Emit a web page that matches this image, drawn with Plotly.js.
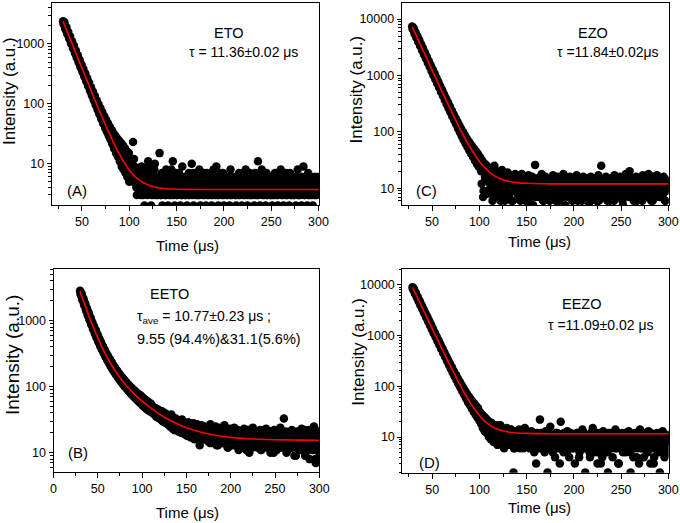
<!DOCTYPE html>
<html><head><meta charset="utf-8">
<script src="https://cdn.plot.ly/plotly-3.0.1.min.js"></script>
<style>html,body{margin:0;padding:0;background:#fff}#chart{width:680px;height:523px}</style>
</head><body><div id="chart"></div>
<script>
// ---------------- data ----------------
// Panel (A) ETO: measured decay, readings every microsecond from t = 30 us
const ETO_t0 = 30;
const ETO_intensity = [
2400,2260,1950,1870,1610,1580,1360,1310,1120,1090,
940,920,790,770,650,640,545,535,455,448,
380,372,318,312,262,263,221,218,183,184,
152,156,128,131,106,110,89,93,74,79,
61,68,51,60,44,52,36,47,31,41,
26,36,22,31,18,28,15,25,13,22,
11,19,9,17,8,15,7,13,6,12,
5,10,6,9,23,12,5,8,3,7,4,
6,3,9,4,7,2,5,8,3,11,4,6,2,7,5,3,10,4,6,3,
4,15,3,5,2,6,4,3,8,5,
2,4,6,3,5,11,4,2,7,3,
5,4,6,2,3,9,4,5,3,6,
2,4,7,3,5,10,4,2,6,3,
4,5,3,8,2,4,6,3,5,4,
2,7,3,5,4,6,2,3,8,4,
5,9,3,2,6,4,5,3,7,2,
4,5,3,6,4,2,8,3,5,4,
6,3,2,5,4,7,3,5,2,4,
6,3,8,4,2,5,3,6,4,3,
5,2,7,4,3,11,5,2,6,8,
3,4,5,2,7,3,4,6,3,5,
2,4,3,7,5,3,2,6,4,8,
3,5,2,4,6,3,5,4,2,7,
3,4,6,3,5,2,4,8,3,5,
4,2,6,9,3,5,4,2,7,3,
4,6,5,2,3,4,6,3,5,4];
// in-between readings (t = 30.5 ... 299.5 us)
const ETO_half_t0 = 30.5;
const ETO_half = [
2150,2300,1760,1910,1470,1590,1230,1330,1020,1110,
850,930,710,775,590,650,492,545,410,455,
342,382,285,320,238,268,198,226,165,190,
138,160,115,136,96,115,80,98,67,84,
56,72,47,62,40,54,34,47,29,41,
25,36,21,32,18,29,16,26,14,24,
12,22,10,20,9,18,8,16,7,15,
8,6,11,7,5,9,6,4,8,5,
6,4,7,5,3,8,4,6,5,9,
4,5,7,3,6,4,8,5,3,6,
5,4,6,3,7,5,4,6,3,5,
4,6,3,5,8,4,3,6,5,4,
3,5,7,4,6,3,5,4,6,3,
5,4,3,6,4,5,3,7,4,5,
6,3,4,5,3,6,4,5,7,3,
4,5,6,3,4,5,3,6,4,5,
3,4,6,5,3,4,7,4,5,3,
6,4,5,3,4,6,3,5,4,6,
4,5,3,6,5,3,4,6,4,5,
3,5,4,6,3,4,5,7,3,4,
6,4,5,3,4,6,3,5,4,5,
4,6,3,5,4,3,6,4,5,3,
5,3,6,4,5,4,3,6,5,4,
4,6,3,5,4,7,3,4,6,5,
5,3,4,6,3,5,4,6,3,4,
3,5,6,4,5,3,4,6,5,3,
6,4,3,5,4,6,3,5,4,6];
const ETO_fit_t = [30,35,40,45,50,55,60,65,70,75,80,85,90,95,100,105,110,115,120,130,140,160,200,250,300];
const ETO_fit_I = [2404,1527,970,617,393,251,160.7,103.3,66.9,43.8,29.2,19.9,14.0,10.2,7.8,6.3,5.4,4.8,4.4,3.97,3.81,3.72,3.7,3.7,3.7];

// Panel (C) EZO
const EZO_t0 = 29;
const EZO_intensity = [
7350,6600,6300,5560,5330,4690,4500,3950,3800,3340,
3220,2810,2730,2380,2310,2000,1950,1690,1650,1430,
1400,1200,1190,1020,1005,860,850,728,722,615,
612,520,520,440,441,374,376,316,320,268,
274,227,233,193,200,163,172,139,148,118,
128,101,110,87,97,75,85,64,74,55,
66,47,58,41,52,36,46,31,42,27,
38,24,35,20,31,7,28,16,26,9,24,14,
22,11,19,6,17,25,13,8,20,15,
7,18,12,21,9,14,6,16,11,19,
8,13,17,6,12,15,9,18,11,14,
10,16,7,13,18,9,12,15,6,11,
14,17,8,12,10,16,5,13,26,9,
12,15,7,11,14,18,10,6,13,16,
9,12,15,8,11,14,7,17,10,13,
6,12,16,9,11,14,8,13,18,10,
5,12,15,9,11,16,7,13,10,14,
8,12,17,6,11,15,9,13,10,16,
7,12,14,9,11,5,13,16,10,12,
8,15,11,6,13,17,9,12,25,10,
14,7,12,16,9,11,13,6,15,10,
12,8,17,11,14,7,13,10,16,9,
12,5,14,11,18,8,13,10,20,12,
7,15,11,9,13,16,6,12,14,10,
8,13,17,11,9,15,12,7,18,10,
13,6,16,11,14,8,12,17,10,13,
7,15,11,9,16,12,6,14,10,13];
const EZO_half_t0 = 29.5;
const EZO_half = [
6650,6950,5500,5860,4650,4950,3920,4190,3310,3540,
2790,2990,2360,2530,1990,2140,1680,1810,1420,1530,
1200,1290,1010,1090,855,920,722,778,610,658,
515,557,435,471,367,398,310,338,262,286,
222,243,188,207,160,177,136,152,115,131,
98,113,84,98,72,86,62,76,54,68,
47,61,41,55,36,50,31,45,27,41,24,
29,22,12,26,9,20,14,23,8,18,
13,17,9,21,12,7,16,10,19,8,
14,11,6,16,10,13,8,17,12,9,
15,7,12,10,14,6,11,16,9,13,
8,12,10,6,14,11,9,15,7,12,
10,13,6,11,9,14,8,12,10,7,
13,9,11,15,7,10,12,6,14,9,
11,8,13,10,6,12,9,15,11,7,
10,14,8,12,6,11,9,13,7,12,
9,15,10,7,12,8,11,14,6,10,
13,9,11,7,14,10,8,12,6,11,
9,13,7,10,15,8,12,6,11,9,
14,10,7,12,9,11,6,13,8,10,
12,7,15,9,11,6,10,13,8,12,
9,11,6,14,10,8,12,7,11,9,
13,6,10,12,8,15,9,11,7,13,
10,8,12,6,11,14,9,7,13,10,
12,9,6,11,15,8,10,13,7,12,
9,11,14,6,10,12,8,13,9,11,
7,12,10,15,8,11,6,13,9,12];
const EZO_fit_t = [29,35,40,45,50,55,60,65,70,75,80,85,90,95,100,105,110,115,120,130,140,150,175,200,250,300];
const EZO_fit_I = [7312,4410,2895,1902,1251,824,544,361,241,162,110,76,54,39.7,30.1,23.9,19.8,17.1,15.4,13.4,12.6,12.3,12.0,12,12,12];

// Panel (B) EETO
const EETO_t0 = 30;
const EETO_intensity = [
2850,2420,2480,2000,2100,1680,1770,1400,1500,1190,
1270,1010,1080,860,925,735,795,630,690,545,
595,472,518,410,455,360,400,318,352,282,
313,250,280,224,251,200,227,181,206,165,
187,150,172,137,158,126,146,116,135,107,
125,99,117,92,109,86,102,80,96,75,
91,70,86,66,81,62,77,58,74,55,
70,51,66,49,63,46,60,44,57,42,55,
52,40,49,38,47,35,46,34,44,33,
43,31,42,30,40,29,39,28,37,27,
36,26,38,25,34,29,22,33,24,31,
21,30,26,20,32,23,28,19,27,24,
18,29,22,26,17,25,21,28,16,23,
19,27,20,24,13,22,26,18,21,25,
16,20,24,15,22,19,27,14,21,23,
17,20,25,13,19,22,16,24,18,21,
14,20,26,15,18,22,12,19,23,16,
21,14,18,24,13,20,17,22,11,19,
15,21,18,12,23,16,19,14,22,17,
10,20,15,18,24,13,19,16,21,12,
18,15,22,11,17,20,14,19,16,23,
12,18,15,21,10,17,19,13,22,15,
18,11,20,16,14,24,12,17,19,33,
15,21,10,18,14,20,16,12,22,15,
19,9,17,13,21,16,11,19,14,23,
12,18,15,9,20,16,13,22,8,17,
14,19,11,25,15,7,18,13,21,10];
const EETO_half_t0 = 30.5;
const EETO_half = [
2560,2600,2120,2190,1760,1850,1480,1560,1240,1330,
1050,1130,890,965,760,830,650,715,560,620,
488,540,425,472,372,415,328,366,290,325,
258,290,230,260,206,234,186,212,169,193,
154,176,141,161,129,148,119,137,110,127,
102,118,95,110,88,103,83,97,77,91,
72,86,68,81,64,77,61,73,57,69,
64,53,61,50,58,47,56,45,53,44,
50,41,48,39,45,37,44,35,42,34,
40,32,39,30,37,29,36,28,34,27,
33,25,32,27,23,31,26,29,22,30,
24,28,21,26,30,20,25,27,19,24,
26,19,23,28,18,22,25,17,24,20,
23,17,26,19,21,15,24,18,22,20,
18,23,16,21,19,25,14,20,17,22,
19,15,22,17,20,13,18,21,16,23,
14,19,17,22,15,18,12,20,16,21,
17,13,19,16,22,14,18,20,12,17,
19,15,21,13,18,16,20,11,17,22,
14,18,16,20,12,19,15,17,21,13,
18,14,20,16,11,19,17,22,13,16,
20,12,17,15,19,14,21,16,10,18,
15,19,13,17,21,12,16,18,14,20,
13,17,15,19,11,16,20,14,18,12,
17,14,20,9,16,18,13,21,15,11,
19,13,16,22,10,17,14,18,12,20,
15,11,18,14,21,8,16,19,12,17];
const EETO_fit_t = [30,32,34,36,38,40,43,46,50,55,60,65,70,75,80,85,90,95,100,110,120,130,140,150,160,170,180,190,200,220,240,260,280,300];
const EETO_fit_I = [2790,2336,1961,1650,1394,1182,929,737,550,392,289,219,171.5,137.7,113,94.7,80.6,69.5,60.6,47.4,38.2,31.8,27.3,24.0,21.7,19.9,18.7,17.8,17.1,16.3,15.9,15.65,15.5,15.45];

// Panel (D) EEZO
const EEZO_t0 = 29;
const EEZO_intensity = [
8950,8000,7600,6650,6350,5550,5300,4640,4430,3870,
3710,3230,3100,2700,2590,2250,2170,1880,1810,1570,
1520,1310,1270,1095,1065,915,892,765,748,640,
628,535,527,448,442,375,372,315,314,262,
266,220,226,184,192,155,164,130,140,109,
121,93,104,79,90,67,78,57,68,48,
60,42,53,36,47,31,42,27,37,24,
33,21,30,18,27,16,25,13,23,12,21,10,
19,9,17,12,8,16,11,17,7,13,
10,17,8,14,11,6,13,9,15,10,
12,7,14,9,11,2,6,10,13,12,
8,14,6,11,9,13,7,15,10,8,
8,11,6,9,13,7,10,5,9,3,
12,7,9,22,8,6,11,9,5,13,
7,2,10,8,16,6,11,7,9,4,
12,6,9,8,3,20,11,7,5,9,
10,6,13,8,4,9,7,11,6,9,
3,8,12,6,10,5,9,7,14,6,
9,2,11,7,6,10,4,12,8,15,
5,10,7,9,3,11,6,9,8,4,
13,7,5,10,8,2,12,6,8,9,
4,11,7,14,6,9,3,10,6,8,
12,5,9,7,5,11,8,13,6,2,
10,8,4,9,7,12,6,9,3,14,
6,10,8,4,11,7,9,5,13,8,
3,8,11,6,4,10,7,12,5,9,
2,9,7,13,6,4,11,8,5,10];
const EEZO_half_t0 = 29.5;
const EEZO_half = [
8100,8300,6750,6930,5640,5790,4710,4830,3930,4030,
3280,3370,2740,2810,2290,2350,1910,1960,1600,1640,
1330,1370,1110,1145,930,955,776,800,648,670,
541,560,453,470,380,395,318,332,267,280,
224,236,189,200,160,170,135,146,115,125,
98,108,83,93,71,81,61,71,53,63,
46,56,40,50,36,45,32,41,29,37,27,
28,19,24,15,22,13,20,16,18,11,
16,12,19,10,14,17,9,13,15,11,
13,10,16,8,12,14,9,11,7,13,
10,12,8,14,9,11,6,12,10,8,
11,7,13,9,10,12,6,11,8,10,
9,12,7,10,11,6,9,12,8,10,
11,8,10,6,12,9,7,11,10,6,
8,11,9,12,6,10,8,5,11,9,
10,7,12,9,6,11,8,10,6,12,
9,11,5,8,10,7,12,9,6,11,
8,10,6,12,9,4,11,7,10,8,
12,6,9,11,7,10,5,8,12,9,
6,11,8,10,5,12,9,7,3,10,
9,12,6,8,11,5,10,7,12,9,
6,10,8,11,6,9,12,3,8,10,
7,11,9,6,12,8,10,6,9,5,
11,8,10,6,12,9,4,7,11,8,
10,6,9,12,7,8,11,5,10,9,
6,12,8,10,3,9,11,7,6,10,
8,11,5,9,12,6,10,7,9,11];
const EEZO_fit_t = [29,35,40,45,50,55,60,65,70,75,80,85,90,95,100,105,110,115,120,130,140,150,175,200,250,300];
const EEZO_fit_I = [8912,5194,3314,2116,1352,866,556,359,233,153,101,68.8,48,34.8,26.4,21,17.6,15.4,14.0,12.6,12.0,11.8,11.6,11.6,11.6,11.6];

// tick steps
const xTickStep = 50, xMinorStep = 25;

// ---------------- figure ----------------
const FONT = 'Liberation Sans, Arial, Helvetica, sans-serif';
const W = 680, H = 523;
const px = v => v / W, py = v => 1 - v / H;
const MSIZE = 8.5;

function dataTrace(t0, y, xa, ya) {
  return {type:'scatter', mode:'markers', x0:t0, dx:1, y:y, xaxis:xa, yaxis:ya,
          marker:{color:'#000', size:MSIZE, line:{width:0}}, hoverinfo:'skip', cliponaxis:true};
}
function fitTrace(t, y, xa, ya) {
  return {type:'scatter', mode:'lines', x:t, y:y, xaxis:xa, yaxis:ya,
          line:{color:'#ff0000', width:1.6, shape:'spline', smoothing:0.8}, hoverinfo:'skip'};
}
function xAxis(d0, d1, range, anchor) {
  return {domain:[px(d0), px(d1)], range:range, anchor:anchor,
    showline:true, mirror:true, linecolor:'#000', linewidth:1,
    ticks:'outside', ticklen:5, tickwidth:1, tickcolor:'#000',
    showgrid:false, zeroline:false, tick0:0, dtick:xTickStep,
    tickfont:{family:FONT, size:12.5, color:'#000'},
    minor:{ticks:'outside', ticklen:3, tick0:0, dtick:xMinorStep, tickcolor:'#000', tickwidth:1, showgrid:false}};
}
function yAxis(top, bottom, range, anchor) {
  return {type:'log', domain:[py(bottom), py(top)], range:range, anchor:anchor,
    showline:true, mirror:true, linecolor:'#000', linewidth:1,
    ticks:'outside', ticklen:4, tickwidth:1, tickcolor:'#000',
    showgrid:false, zeroline:false, dtick:1, tickformat:'d',
    tickfont:{family:FONT, size:12.5, color:'#000'},
    minor:{ticks:'outside', ticklen:2.5, dtick:'D1', tickcolor:'#000', tickwidth:1, showgrid:false}};
}
function ann(text, x, y, size, opts) {
  return Object.assign({text:text, x:px(x), y:py(y), xref:'paper', yref:'paper', showarrow:false,
    xanchor:'center', yanchor:'middle', font:{family:FONT, size:size, color:'#000'}}, opts||{});
}

const traces = [
  dataTrace(ETO_t0, ETO_intensity, 'x', 'y'),
  dataTrace(ETO_half_t0, ETO_half, 'x', 'y'),
  fitTrace(ETO_fit_t, ETO_fit_I, 'x', 'y'),
  dataTrace(EZO_t0, EZO_intensity, 'x2', 'y2'),
  dataTrace(EZO_half_t0, EZO_half, 'x2', 'y2'),
  fitTrace(EZO_fit_t, EZO_fit_I, 'x2', 'y2'),
  dataTrace(EETO_t0, EETO_intensity, 'x3', 'y3'),
  dataTrace(EETO_half_t0, EETO_half, 'x3', 'y3'),
  fitTrace(EETO_fit_t, EETO_fit_I, 'x3', 'y3'),
  dataTrace(EEZO_t0, EEZO_intensity, 'x4', 'y4'),
  dataTrace(EEZO_half_t0, EEZO_half, 'x4', 'y4'),
  fitTrace(EEZO_fit_t, EEZO_fit_I, 'x4', 'y4')
];

const layout = {
  width:W, height:H, margin:{l:0, r:0, t:0, b:0, pad:0},
  paper_bgcolor:'#fff', plot_bgcolor:'#fff', showlegend:false,
  font:{family:FONT, color:'#000'},
  xaxis:  xAxis(51.7, 319.0, [18, 300.5], 'y'),
  yaxis:  yAxis(2.7, 205, [0.309, 3.69], 'x'),
  xaxis2: xAxis(401.7, 668.7, [17.9, 300.4], 'y2'),
  yaxis2: yAxis(2.7, 205, [0.704, 4.289], 'x2'),
  xaxis3: xAxis(53.5, 319.3, [0, 300], 'y3'),
  yaxis3: yAxis(268.7, 472, [0.708, 3.788], 'x3'),
  xaxis4: xAxis(402.3, 668.7, [18.2, 300.4], 'y4'),
  yaxis4: yAxis(269.3, 472.7, [0.297, 4.303], 'x4'),
  annotations: [
    ann('Intensity (a.u.)', 9, 91, 17, {textangle:-90}),
    ann('Intensity (a.u.)', 355.5, 90, 17, {textangle:-90}),
    ann('Intensity (a.u.)', 12, 355, 19, {textangle:-90}),
    ann('Intensity (a.u.)', 357.8, 352, 17, {textangle:-90}),
    ann('Time (μs)', 187, 245, 15),
    ann('Time (μs)', 539, 241.5, 15),
    ann('Time (μs)', 187, 512.5, 15),
    ann('Time (μs)', 539, 507.5, 15),
    ann('ETO', 229, 32.5, 14.5),
    ann('τ = 11.36±0.02 μs', 243, 52, 14),
    ann('(A)', 77, 190, 15),
    ann('EZO', 593, 32.5, 14.5),
    ann('τ =11.84±0.02μs', 607.5, 52, 14),
    ann('(C)', 426, 190, 15),
    ann('EETO', 169.5, 294, 14.5),
    ann('τ<sub>ave</sub> = 10.77±0.23 μs ;', 135, 317, 14, {xanchor:'left'}),
    ann('9.55 (94.4%)&amp;31.1(5.6%)', 135, 338.5, 14.5, {xanchor:'left'}),
    ann('(B)', 78, 452.5, 15),
    ann('EEZO', 581, 304, 14.5),
    ann('τ =11.09±0.02 μs', 600, 325, 14),
    ann('(D)', 429.5, 462, 15)
  ]
};

Plotly.newPlot('chart', traces, layout, {staticPlot:true, displayModeBar:false});
</script>
</body></html>
